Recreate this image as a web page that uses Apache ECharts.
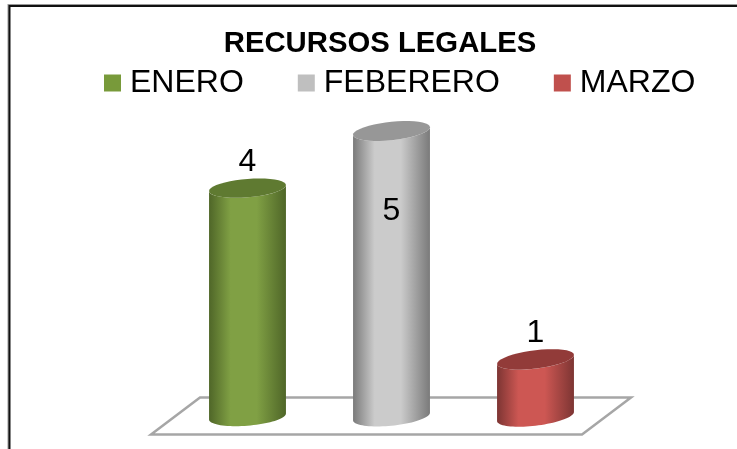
<!DOCTYPE html>
<html>
<head>
<meta charset="utf-8">
<style>
  html, body { margin: 0; padding: 0; background: #fff; }
  #chart { width: 737px; height: 449px; }
</style>
<script src="https://cdn.jsdelivr.net/npm/echarts@6/dist/echarts.min.js"></script>
</head>
<body>
<div id="chart"></div>
<script>
// datos del grafico
const categories = ['ENERO', 'FEBERERO', 'MARZO']
const values = [4, 5, 1]
const baseColors = ['#789a3a', '#bfbfbf', '#c0504d']
const edgeColors = ['#4f6628', '#7a7a7a', '#7d3533']
const midColors = ['#80a044', '#cbcbcb', '#cd5753']
const topColors = ['#5f7a31', '#979797', '#923b39']

const chartInstance = echarts.init(document.getElementById('chart'))
const font = '"Liberation Sans", Arial, sans-serif'

// borde inferior/superior del cilindro como elipse inclinada
function arcPoints(cx, cy, a, b, tilt, from, to) {
  const pts = []
  for (let i = 0; i <= 40; i++) {
    const t = from + ((to - from) * i) / 40
    pts.push([cx + a * Math.cos(t), cy - tilt * Math.cos(t) + b * Math.sin(t)])
  }
  return pts
}

function renderCylinder(params, api) {
  const idx = params.seriesIndex
  const value = api.value(1)
  const top = api.coord([api.value(0), value])
  const bottom = api.coord([api.value(0), 0])
  const a = api.size([1, 0])[0] * 0.267
  const b = 9.2
  const tilt = 3 + api.value(0) * 0.75
  const cx = top[0]

  // cuerpo: lado frontal superior + lado frontal inferior
  const body = arcPoints(cx, top[1], a, b, tilt, Math.PI, 0).concat(
    arcPoints(cx, bottom[1], a, b, tilt, 0, Math.PI)
  )
  const labelDy = value === Math.max(...values) ? 80 : -26

  return {
    type: 'group',
    children: [
      {
        type: 'polygon',
        shape: { points: body },
        style: {
          fill: new echarts.graphic.LinearGradient(0, 0, 1, 0, [
            { offset: 0, color: edgeColors[idx] },
            { offset: 0.28, color: midColors[idx] },
            { offset: 0.62, color: midColors[idx] },
            { offset: 1, color: edgeColors[idx] },
          ]),
        },
      },
      {
        type: 'polygon',
        shape: { points: arcPoints(cx, top[1], a, b, tilt, 0, Math.PI * 2) },
        style: { fill: topColors[idx] },
      },
      {
        type: 'text',
        z2: 10,
        style: {
          text: String(value),
          x: cx,
          y: top[1] + labelDy,
          align: 'center',
          verticalAlign: 'middle',
          fill: '#000',
          font: '32px ' + font,
        },
      },
    ],
  }
}

// piso del grafico, relativo al area del grid
function renderFloor(params, api) {
  const g = params.coordSys
  const y1 = g.y + g.height - 19
  const y2 = g.y + g.height + 18
  return {
    type: 'polygon',
    shape: {
      points: [
        [g.x + 24.5, y1],
        [g.x + g.width + 23.5, y1],
        [g.x + g.width - 25.5, y2],
        [g.x - 24.5, y2],
      ],
    },
    style: { fill: '#fff', stroke: '#a6a6a6', lineWidth: 2.5 },
  }
}

const seriesList = categories.map((name, i) => ({
  name,
  type: 'custom',
  z: 3,
  itemStyle: { color: baseColors[i] },
  renderItem: renderCylinder,
  data: [[i, values[i]]],
}))
seriesList.push({
  name: 'piso',
  type: 'custom',
  z: 1,
  silent: true,
  renderItem: renderFloor,
  data: [[0, 0]],
})

const option = {
  animation: false,
  backgroundColor: '#fff',
  title: {
    text: 'RECURSOS LEGALES',
    left: 375,
    top: 24,
    textAlign: 'center',
    textStyle: { fontFamily: font, fontSize: 29.3, fontWeight: 'bold', color: '#000' },
  },
  legend: {
    data: categories,
    left: 99,
    top: 62,
    icon: 'rect',
    itemWidth: 17,
    itemHeight: 17,
    itemGap: 54,
    textStyle: { fontFamily: font, fontSize: 32, color: '#000', padding: [0, 0, 0, 4] },
  },
  grid: { left: 175.5, top: 131, width: 432, height: 285.5 },
  xAxis: { type: 'category', data: categories.map((c, i) => i), show: false },
  yAxis: { type: 'value', min: 0, max: 5, show: false },
  series: seriesList,
  graphic: [
    {
      type: 'polyline',
      silent: true,
      shape: { points: [[8.5, 449], [8.5, 5], [737, 5]] },
      style: { fill: 'none', stroke: '#999', lineWidth: 2 },
    },
    {
      type: 'polyline',
      silent: true,
      shape: { points: [[9.5, 449], [9.5, 6], [737, 6]] },
      style: { fill: 'none', stroke: '#111', lineWidth: 2 },
    },
  ],
}
chartInstance.setOption(option)
</script>
</body>
</html>
